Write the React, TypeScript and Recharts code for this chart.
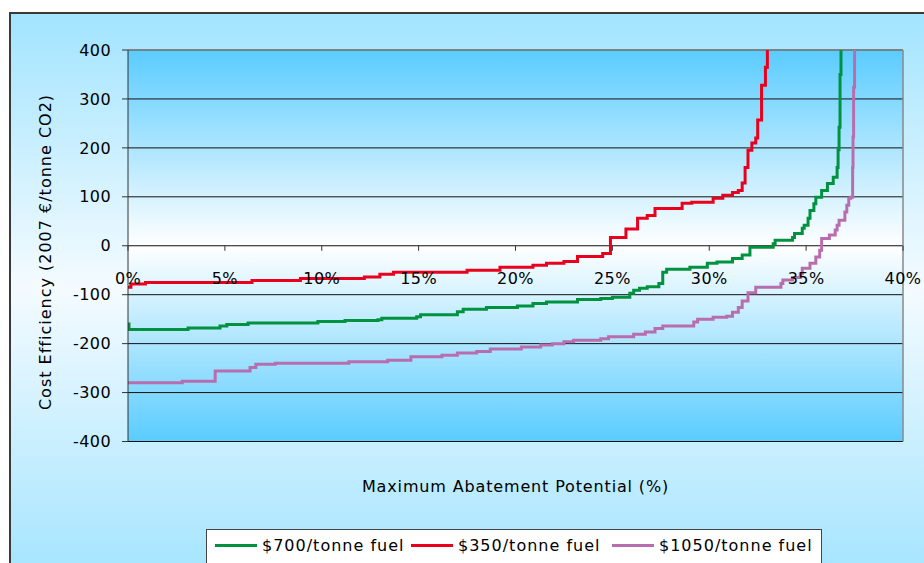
import React from 'react';
import { LineChart, Line, XAxis, YAxis, CartesianGrid, ReferenceLine, Legend } from 'recharts';

// ---------- data ----------
const X_TICKS = [0, 5, 10, 15, 20, 25, 30, 35, 40];
const Y_TICKS = [-400, -300, -200, -100, 0, 100, 200, 300, 400];
const SERIES_NAMES = ['$700/tonne fuel', '$350/tonne fuel', '$1050/tonne fuel'];
const SERIES_COLORS = ['#00923f', '#e8001c', '#b86eae'];
const X_TITLE = 'Maximum Abatement Potential (%)';
const Y_TITLE = 'Cost Efficiency (2007 €/tonne CO2)';

// [abatement %, cost €/t] – step starts
const fuel700: [number, number][] = [
  [0, -160], [0.05, -171], [3.1, -168], [4.75, -164], [5.1, -161], [6.2, -158], [9.8, -155],
  [11.2, -153], [12.9, -151], [13.1, -148], [14.9, -145], [15.1, -141], [17.0, -135], [17.3, -130],
  [18.5, -126], [20.1, -123], [20.9, -118], [21.6, -115], [23.2, -110], [24.4, -108], [25.0, -105],
  [25.9, -97], [26.1, -91], [26.4, -87], [26.8, -84], [27.4, -77], [27.6, -54], [27.8, -48],
  [29.0, -44], [29.9, -36], [30.4, -33], [31.2, -26], [31.7, -19], [32.1, -3], [33.3, 4],
  [33.4, 11], [34.3, 17], [34.4, 25], [34.8, 36], [34.9, 42], [35.1, 56], [35.2, 72], [35.4, 86],
  [35.5, 99], [35.8, 113], [36.1, 127], [36.4, 140], [36.6, 160], [36.65, 196], [36.7, 242],
  [36.75, 350], [36.8, 400],
];

const fuel350: [number, number][] = [
  [0, -85], [0.15, -78], [0.9, -75], [6.4, -71], [8.9, -67], [12.2, -64], [13.0, -58], [13.7, -54],
  [17.5, -50], [19.2, -44], [20.9, -40], [21.6, -36], [22.5, -32], [23.2, -22], [24.5, -16],
  [24.9, 17], [25.7, 34], [26.3, 56], [26.8, 62], [27.2, 76], [28.6, 87], [29.1, 89], [30.2, 97],
  [30.7, 103], [31.2, 109], [31.5, 113], [31.7, 128], [31.85, 160], [32.0, 195], [32.2, 210],
  [32.4, 220], [32.5, 257], [32.7, 328], [32.9, 365], [33.0, 400],
];

const fuel1050: [number, number][] = [
  [0, -280], [2.8, -277], [4.5, -256], [6.3, -249], [6.6, -242], [7.6, -240], [11.4, -237],
  [13.4, -234], [14.6, -227], [16.2, -224], [17.0, -219], [18.0, -216], [18.7, -211], [20.3, -207],
  [21.3, -203], [21.9, -200], [22.5, -196], [23.0, -193], [24.4, -190], [24.8, -186], [26.1, -181],
  [26.7, -176], [27.2, -169], [27.6, -164], [29.2, -156], [29.4, -150], [30.2, -146], [30.9, -144],
  [31.2, -136], [31.5, -126], [31.7, -113], [32.0, -96], [32.4, -85], [33.7, -77], [33.8, -70],
  [34.3, -65], [34.7, -57], [34.8, -46], [35.2, -36], [35.5, -23], [35.7, -9], [35.8, 15],
  [36.2, 22], [36.5, 32], [36.6, 42], [36.7, 52], [37.0, 69], [37.1, 83], [37.2, 97], [37.3, 99],
  [37.4, 160], [37.42, 222], [37.45, 324], [37.5, 400],
];

const SERIES = [fuel700, fuel350, fuel1050];

// ---------- layout ----------
const W = 924;
const H = 563;
const MARGIN = { top: 50, right: 21, bottom: 91.5, left: 68 };
const Y_AXIS_W = 60;
const X_AXIS_H = 30;
const PLOT_LEFT = MARGIN.left + Y_AXIS_W;
const PLOT_W = W - PLOT_LEFT - MARGIN.right;
const PLOT_H = H - MARGIN.top - MARGIN.bottom - X_AXIS_H;
const Y_MIN = Y_TICKS[0];
const Y_MAX = Y_TICKS[Y_TICKS.length - 1];
const Y_ZERO = MARGIN.top + (PLOT_H * Y_MAX) / (Y_MAX - Y_MIN);
const FONT = '"DejaVu Sans", Verdana, sans-serif';

const XTick = (props: any) => {
  const { x, payload } = props;
  return (
    <g>
      <line x1={x} x2={x} y1={Y_ZERO} y2={Y_ZERO + 5} stroke="#333" strokeWidth={1} />
      <text x={x} y={Y_ZERO + 38} textAnchor="middle" fontSize={16} fontFamily={FONT} fill="#000" letterSpacing={0.4}>
        {`${payload.value}%`}
      </text>
    </g>
  );
};

const renderLegend = (props: any) => {
  const payload = props.payload || [];
  const offsets = [8, 204, 405];
  const entries = SERIES_NAMES.map((name, i) => {
    const found = payload.find((p: any) => p.value === name);
    return { name, color: found ? found.color : SERIES_COLORS[i] };
  });
  return (
    <div
      style={{
        position: 'relative',
        width: 616,
        height: 40,
        background: '#fff',
        border: '1px solid #444',
        boxSizing: 'border-box',
        fontFamily: FONT,
        fontSize: 16,
        letterSpacing: 1,
        color: '#000',
      }}
    >
      {entries.map((p, i) => (
        <div
          key={i}
          style={{ position: 'absolute', left: offsets[i], top: 6, display: 'flex', alignItems: 'center', whiteSpace: 'nowrap' }}
        >
          <span style={{ display: 'inline-block', width: 42, height: 3, background: p.color, marginRight: 5 }} />
          <span>{p.name}</span>
        </div>
      ))}
    </div>
  );
};

export default function App() {
  return (
    <div style={{ position: 'absolute', left: 0, top: 0, width: W, height: H, overflow: 'hidden', background: '#fff' }}>
      <div
        style={{
          position: 'absolute',
          left: 9,
          top: 12,
          width: 940,
          height: 570,
          borderLeft: '2px solid #3a3a3a',
          borderTop: '2px solid #3a3a3a',
          background: 'linear-gradient(to bottom, #a2e4ff 0%, #f4fbff 48%, #a2e4ff 100%)',
        }}
      />
      <div style={{ position: 'absolute', left: 0, top: 0 }}>
        <LineChart width={W} height={H} margin={MARGIN}>
          <defs>
            <linearGradient id="plotGrad" x1="0" y1="0" x2="0" y2="1">
              <stop offset="0%" stopColor="#5accff" />
              <stop offset="50%" stopColor="#ffffff" />
              <stop offset="100%" stopColor="#5accff" />
            </linearGradient>
          </defs>
          <CartesianGrid vertical={false} stroke="#111" strokeWidth={1} fill="url(#plotGrad)" fillOpacity={1} />
          <XAxis
            type="number"
            dataKey="x"
            domain={[0, 40]}
            ticks={X_TICKS}
            allowDataOverflow
            height={X_AXIS_H}
            axisLine={false}
            tickLine={false}
            tick={<XTick />}
            interval={0}
            label={{
              content: () => (
                <text
                  x={PLOT_LEFT + PLOT_W / 2}
                  y={492}
                  textAnchor="middle"
                  fontSize={16}
                  fontFamily={FONT}
                  fill="#000"
                  letterSpacing={0.85}
                >
                  {X_TITLE}
                </text>
              ),
            }}
          />
          <YAxis
            type="number"
            domain={[Y_MIN, Y_MAX]}
            ticks={Y_TICKS}
            allowDataOverflow
            width={Y_AXIS_W}
            interval={0}
            stroke="#333"
            tickSize={6}
            tickMargin={11}
            tick={{ fontSize: 16, fontFamily: FONT, fill: '#000', letterSpacing: 0.4 }}
            label={{
              content: () => (
                <text
                  x={51}
                  y={252}
                  transform="rotate(-90 51 252)"
                  textAnchor="middle"
                  fontSize={16}
                  fontFamily={FONT}
                  fill="#000"
                  letterSpacing={1}
                >
                  {Y_TITLE}
                </text>
              ),
            }}
          />
          <ReferenceLine y={Y_MAX} stroke="#888" strokeWidth={1.5} />
          <ReferenceLine x={40} stroke="#888" strokeWidth={1.5} />
          {SERIES.map((s, i) => (
            <Line
              key={SERIES_NAMES[i]}
              name={SERIES_NAMES[i]}
              data={s.map(([x, y]) => ({ x, y }))}
              dataKey="y"
              type="stepAfter"
              stroke={SERIES_COLORS[i]}
              strokeWidth={3}
              dot={false}
              activeDot={false}
              isAnimationActive={false}
            />
          ))}
          <Legend
            layout="horizontal"
            verticalAlign="middle"
            align="center"
            wrapperStyle={{ left: 206, top: 529, width: 616, height: 40 }}
            content={renderLegend}
          />
        </LineChart>
      </div>
    </div>
  );
}
